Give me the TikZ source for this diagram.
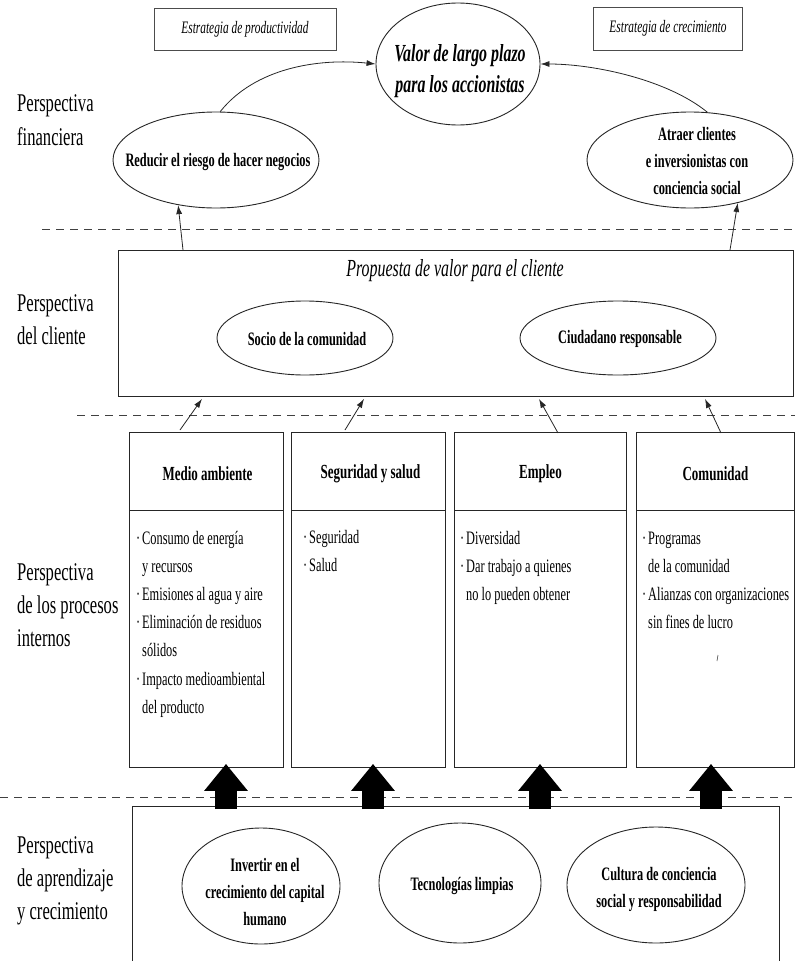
\documentclass[tikz,border=0pt]{standalone}
\usepackage{fontspec}
\setmainfont{Liberation Serif}[FakeStretch=0.65]
\usetikzlibrary{arrows.meta,shapes.geometric,calc}
\newcommand{\itemdot}{\makebox[6pt][l]{·}}
\newcommand{\itemgap}{\hspace*{6pt}}
\begin{document}
\begin{tikzpicture}[x=1pt,y=-1pt,
  ln/.style={draw=black!85, line width=0.9pt},
  seclabel/.style={font=\fontsize{25.5}{34}\selectfont, anchor=base west, inner sep=0pt},
  stratbox/.style={draw=black!70, line width=0.8pt, font=\fontsize{17.5}{20}\selectfont\itshape, inner sep=0pt, minimum height=42pt},
  oval/.style={ellipse, draw=black!85, line width=0.9pt, inner sep=0pt},
  ovaltext/.style={font=\fontsize{19}{27}\selectfont\bfseries, align=center, inner sep=0pt},
  colbox/.style={draw=black!85, line width=0.9pt, anchor=north west, inner sep=0pt},
  colhead/.style={font=\fontsize{20}{22}\selectfont\bfseries, inner sep=0pt},
  itemline/.style={font=\fontsize{19}{20}\selectfont, anchor=base west, inner sep=0pt},
  thinarrow/.style={draw=black!85, line width=0.8pt, -{Latex[length=9pt,width=6pt]}},
  fatarrow/.style={draw=black, line width=22pt, -{Triangle[length=27pt,width=42pt]}},
  sepline/.style={draw=black!75, line width=0.8pt, dash pattern=on 8pt off 6pt},
]
\useasboundingbox (0,0) rectangle (795,961);
\fill[white] (0,0) rectangle (795,961);

% ---------- financial perspective ----------
\node[seclabel] (fin1) at (17,111) {Perspectiva};
\node[seclabel] (fin2) at (17,145) {financiera};

\node[stratbox, minimum width=182pt] (sprod) at (245,29) {Estrategia de productividad};
\node[stratbox, minimum width=149pt, minimum height=43pt] (screc) at (668,28.5) {Estrategia de crecimiento};

\node[oval, minimum width=164pt, minimum height=122pt] (valor) at (458,64) {};
\node[ovaltext, font=\fontsize{24.5}{31}\selectfont\bfseries\itshape] (valort) at (460,71)
  {Valor de largo plazo\\para los accionistas};

\node[oval, minimum width=206pt, minimum height=96pt] (reducir) at (216,160) {};
\node[ovaltext] (reducirt) at (218,162) {Reducir el riesgo de hacer negocios};

\node[oval, minimum width=206pt, minimum height=96pt] (atraer) at (690,160) {};
\node[ovaltext] (atraert) at (697,161) {Atraer clientes\\e inversionistas con\\conciencia social};

\draw[thinarrow] (reducir.85) .. controls (255,68) and (318,58) .. (valor.west);
\draw[thinarrow] (atraer.70) .. controls (668,80) and (595,64) .. (valor.east);

\draw[sepline] (42,229) -- (795,229);

% ---------- customer perspective ----------
\node[seclabel] (cli1) at (17,311) {Perspectiva};
\node[seclabel] (cli2) at (17,344) {del cliente};

\node[colbox, minimum width=675pt, minimum height=146pt] (cbox) at (118,250) {};
\node[font=\fontsize{24.5}{26}\selectfont\itshape, inner sep=0pt] (ctitle) at (455,271)
  {Propuesta de valor para el cliente};

\node[oval, minimum width=176pt, minimum height=74pt] (socio) at (305,338) {};
\node[ovaltext] (sociot) at (307,339) {Socio de la comunidad};
\node[oval, minimum width=196pt, minimum height=74pt] (ciudadano) at (618,338) {};
\node[ovaltext] (ciudadanot) at (620,339) {Ciudadano responsable};

\draw[thinarrow] ($(cbox.north west)+(65,0)$) -- (reducir.230);
\draw[thinarrow] ($(cbox.north west)+(612,0)$) -- (atraer.318);

\draw[sepline] (77,415) -- (795,415);

% ---------- internal process perspective ----------
\node[seclabel] (pro1) at (17,580) {Perspectiva};
\node[seclabel] (pro2) at (17,613) {de los procesos};
\node[seclabel] (pro3) at (17,646) {internos};

\node[colbox, minimum width=154pt, minimum height=335pt] (col1) at (129,432) {};
\node[colbox, minimum width=154pt, minimum height=335pt] (col2) at (291,432) {};
\node[colbox, minimum width=172pt, minimum height=335pt] (col3) at (454,432) {};
\node[colbox, minimum width=158pt, minimum height=335pt] (col4) at (636,432) {};
\foreach \c in {col1,col2,col3,col4}
  \draw[ln] ([yshift=-78pt]\c.north west) -- ([yshift=-78pt]\c.north east);

\node[colhead] (h1) at ($(col1.north)+(1,42)$) {Medio ambiente};
\node[colhead] (h2) at ($(col2.north)+(2,42)$) {Seguridad y salud};
\node[colhead] (h3) at ($(col3.north)+(0,42)$) {Empleo};
\node[colhead] (h4) at ($(col4.north)+(0,42)$) {Comunidad};

\foreach \txt [count=\i from 0] in {\itemdot Consumo de energía, \itemgap y recursos,
    \itemdot Emisiones al agua y aire, \itemdot Eliminación de residuos, \itemgap sólidos,
    \itemdot Impacto medioambiental, \itemgap del producto}
  \node[itemline] (ma\i) at ($(col1.north west)+(7,112+28.2*\i)$) {\txt};
\foreach \txt [count=\i from 0] in {\itemdot Seguridad, \itemdot Salud}
  \node[itemline] (sa\i) at ($(col2.north west)+(12,111+28.2*\i)$) {\txt};
\foreach \txt [count=\i from 0] in {\itemdot Diversidad, \itemdot Dar trabajo a quienes,
    \itemgap no lo pueden obtener}
  \node[itemline] (ea\i) at ($(col3.north west)+(6,112+28.2*\i)$) {\txt};
\foreach \txt [count=\i from 0] in {\itemdot Programas, \itemgap de la comunidad,
    \itemdot Alianzas con organizaciones, \itemgap sin fines de lucro}
  \node[itemline] (ca\i) at ($(col4.north west)+(6,112+28.2*\i)$) {\txt};
\draw[black!70, line width=0.6pt] ($(col4.north west)+(82,223)$) -- ($(col4.north west)+(81,229)$);

\draw[thinarrow] ($(col1.north west)+(51,-2)$) -- ($(cbox.south west)+(84,2)$);
\draw[thinarrow] ($(col2.north west)+(54,-2)$) -- ($(cbox.south west)+(246,2)$);
\draw[thinarrow] ($(col3.north west)+(104,1)$) -- ($(cbox.south west)+(421,2)$);
\draw[thinarrow] ($(col4.north west)+(85,1)$) -- ($(cbox.south west)+(587,2)$);

% ---------- learning and growth perspective ----------
\node[seclabel] (apr1) at (17,853) {Perspectiva};
\node[seclabel] (apr2) at (17,886) {de aprendizaje};
\node[seclabel] (apr3) at (17,919) {y crecimiento};

\node[anchor=north west, inner sep=0pt, minimum width=647pt, minimum height=160pt] (lrn) at (132,806) {};
\draw[ln] (lrn.south west) -- (lrn.north west) -- (lrn.north east) -- (lrn.south east);

\node[oval, minimum width=158pt, minimum height=116pt] (invertir) at (261,886) {};
\node[ovaltext] (invertirt) at (265,892) {Invertir en el\\crecimiento del capital\\humano};
\node[oval, minimum width=162pt, minimum height=120pt] (tecno) at (460,883) {};
\node[ovaltext] (tecnot) at (462,886) {Tecnologías limpias};
\node[oval, minimum width=178pt, minimum height=116pt] (cultura) at (656,885) {};
\node[ovaltext] (culturat) at (659,889) {Cultura de conciencia\\social y responsabilidad};

\draw[sepline] (0,797) -- (795,797);

\draw[fatarrow] ($(lrn.north west)+(94,3)$) -- ($(col1.south west)+(97,-4)$);
\draw[fatarrow] ($(lrn.north west)+(241,3)$) -- ($(col2.south west)+(82,-4)$);
\draw[fatarrow] ($(lrn.north west)+(408,3)$) -- ($(col3.south west)+(86,-4)$);
\draw[fatarrow] ($(lrn.north west)+(579,3)$) -- ($(col4.south west)+(75,-4)$);
\end{tikzpicture}
\end{document}
